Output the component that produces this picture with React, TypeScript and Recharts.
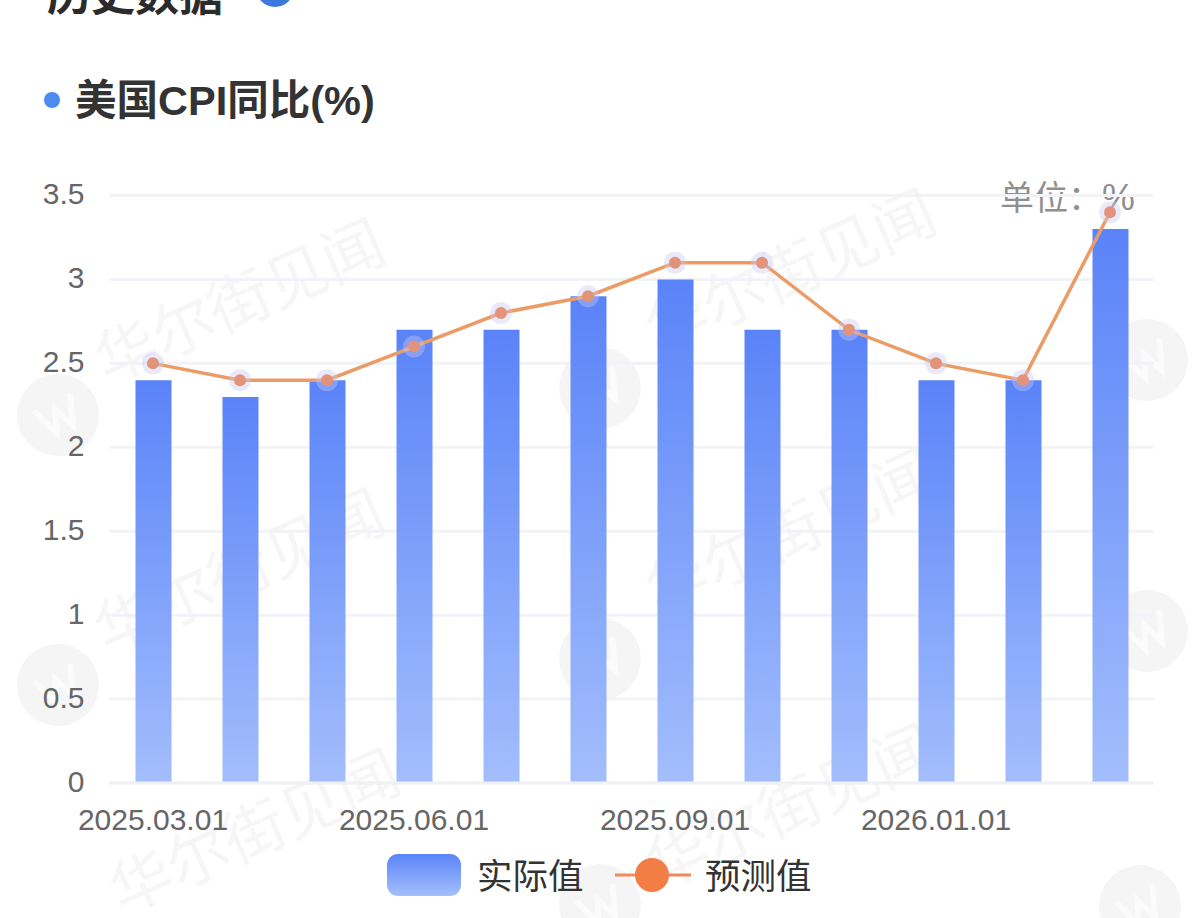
import React from 'react';
import { ComposedChart, Bar, Line, XAxis, YAxis, CartesianGrid, Legend } from 'recharts';

const categories = ['2025.03.01','2025.04.01','2025.05.01','2025.06.01','2025.07.01','2025.08.01','2025.09.01','2025.11.01','2025.12.01','2026.01.01','2026.02.01','2026.03.01'];
const actualValues = [2.4,2.3,2.4,2.7,2.7,2.9,3.0,2.7,2.7,2.4,2.4,3.3];
const forecastValues = [2.5,2.4,2.4,2.6,2.8,2.9,3.1,3.1,2.7,2.5,2.4,3.4];
const yTicks = [0,0.5,1,1.5,2,2.5,3,3.5];
const tableData = categories.map((date, i) => ({ date, actual: actualValues[i], forecast: forecastValues[i] }));

const FONT = '"Liberation Sans", "Noto Sans CJK SC", sans-serif';
const CJK = '"Noto Sans CJK SC", sans-serif';

const wmText = [[107,385],[658,355],[107,655],[658,615],[122,915],[658,890]];
const wmLogo = [[58,415],[58,685],[600,388],[600,659],[600,905],[1147,360],[1147,631],[1140,906]];

function Watermark() {
  return (
    <svg width={1199} height={918} style={{ position: 'absolute', left: 0, top: 0 }}>
      {wmLogo.map(([x, y], i) => (
        <g key={i} transform={`translate(${x} ${y}) rotate(-25)`}>
          <circle r={41} fill="#f5f5f6" />
          <path d="M-20 -14 L-9 16 L0 -6 L9 16 L20 -14" fill="none" stroke="#fbfbfc" strokeWidth={6} />
        </g>
      ))}
      {wmText.map(([x, y], i) => (
        <text key={i} x={x} y={y} fontSize={62} fill="#f6f6f7" fontFamily={CJK} transform={`rotate(-24 ${x} ${y})`}>华尔街见闻</text>
      ))}
    </svg>
  );
}

function ForecastDot(props: any) {
  const { cx, cy, index } = props;
  return (
    <g key={index}>
      <circle cx={cx} cy={cy} r={11} fill="#c9c8f2" fillOpacity={0.4} />
      <circle cx={cx} cy={cy} r={6} fill="#e2947a" />
    </g>
  );
}

function LegendContent() {
  const label: React.CSSProperties = { fontSize: 35.5, color: '#333', fontFamily: CJK, lineHeight: '42px' };
  return (
    <div style={{ position: 'relative', width: 1199, height: 60 }}>
      <div style={{ position: 'absolute', left: 387, top: 9, width: 74, height: 42, borderRadius: 11, background: 'linear-gradient(#5b84f8,#a4bffc)' }} />
      <span style={{ ...label, position: 'absolute', left: 477, top: 8 }}>实际值</span>
      <svg width={76} height={40} style={{ position: 'absolute', left: 615, top: 10 }}>
        <line x1={0} x2={76} y1={20} y2={20} stroke="#ee8a5c" strokeWidth={3} />
        <circle cx={37} cy={20} r={17} fill="#f27d45" />
      </svg>
      <span style={{ ...label, position: 'absolute', left: 705, top: 8 }}>预测值</span>
    </div>
  );
}

export default function App() {
  return (
    <div style={{ position: 'absolute', left: 0, top: 0, width: 1199, height: 918, overflow: 'hidden', background: '#fff' }}>
      <Watermark />
      <div style={{ position: 'absolute', left: 47, top: -34, fontSize: 44, fontWeight: 700, color: '#2b2b2b', fontFamily: CJK, lineHeight: '52px' }}>历史数据</div>
      <div style={{ position: 'absolute', left: 256, top: -31, width: 38, height: 38, borderRadius: 19, background: '#3d78dc' }} />
      <div style={{ position: 'absolute', left: 44, top: 92, width: 16, height: 16, borderRadius: 8, background: '#4c8bf0' }} />
      <div style={{ position: 'absolute', left: 75, top: 78, fontSize: 41.5, fontWeight: 700, color: '#333', fontFamily: FONT, lineHeight: '46px', whiteSpace: 'nowrap' }}>美国CPI同比(%)</div>
      <div style={{ position: 'absolute', left: 1000, top: 176, fontSize: 34, color: '#8f8f8f', fontFamily: FONT, lineHeight: '44px', whiteSpace: 'nowrap' }}>单位：<span style={{ fontSize: 37 }}>%</span></div>
      <div style={{ position: 'absolute', left: 0, top: 0 }}>
        <ComposedChart width={1199} height={918} data={tableData} margin={{ top: 195.5, right: 45.5, bottom: 15, left: 0 }}>
          <defs>
            <linearGradient id="barFill" x1="0" y1="0" x2="0" y2="1">
              <stop offset="0%" stopColor="#5a83f8" />
              <stop offset="100%" stopColor="#a3befc" />
            </linearGradient>
          </defs>
          <CartesianGrid vertical={false} stroke="#f2f3f7" strokeWidth={3} />
          <XAxis dataKey="date" interval={2} height={60} tickSize={0} tickMargin={26} tickLine={false}
            axisLine={{ stroke: '#f0f1f6', strokeWidth: 3 }}
            tick={{ fontSize: 30, fill: '#666', fontFamily: FONT }} />
          <YAxis width={109.5} domain={[0, 3.5]} ticks={yTicks} tickSize={0} tickMargin={25} tickLine={false} axisLine={false}
            tick={{ fontSize: 30, fill: '#666', fontFamily: FONT, dy: -2 }} />
          <Legend verticalAlign="bottom" content={<LegendContent />} wrapperStyle={{ left: 0, width: 1199, bottom: 13 }} />
          <Bar dataKey="actual" name="实际值" fill="url(#barFill)" barSize={36} isAnimationActive={false} />
          <Line dataKey="forecast" name="预测值" type="linear" stroke="#eb9c66" strokeWidth={3.5} dot={<ForecastDot />} activeDot={false} isAnimationActive={false} />
        </ComposedChart>
      </div>
    </div>
  );
}
